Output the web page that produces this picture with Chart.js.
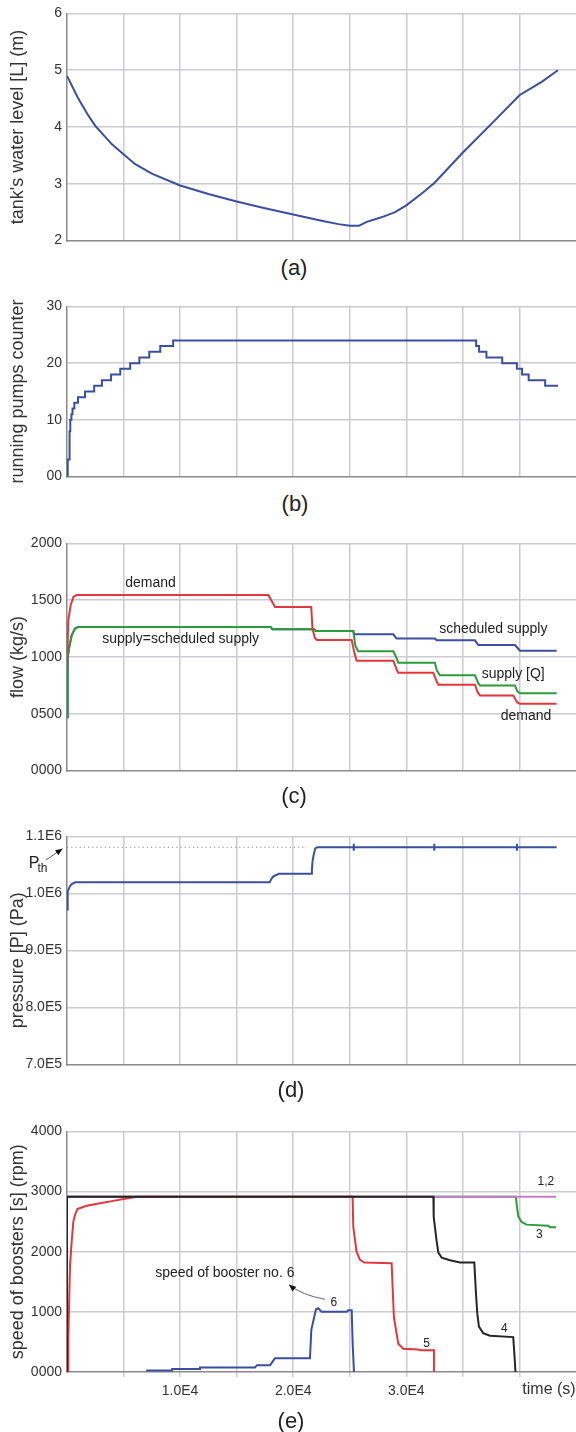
<!DOCTYPE html>
<html>
<head>
<meta charset="utf-8">
<script src="https://cdn.jsdelivr.net/npm/chart.js@4.4.1/dist/chart.umd.min.js"></script>
<style>
  body { margin: 0; background: #fff; }
  #page { position: relative; width: 576px; height: 1432px; overflow: hidden; font-family: "Liberation Sans", Arial, sans-serif; }
  canvas { position: absolute; left: 0; }
  .cap { position: absolute; font-size: 22px; line-height: 1; color: #222; transform: translate(-50%, -50%); }
</style>
</head>
<body>
<div id="page">
  <canvas id="chartA" width="576" height="254" style="top:0px"></canvas>
  <canvas id="chartB" width="576" height="197" style="top:293px"></canvas>
  <canvas id="chartC" width="576" height="254" style="top:530px"></canvas>
  <canvas id="chartD" width="576" height="255" style="top:823px"></canvas>
  <canvas id="chartE" width="582" height="294" style="top:1118px"></canvas>
  <div class="cap" style="left:294px;top:268px">(a)</div>
  <div class="cap" style="left:295px;top:504px">(b)</div>
  <div class="cap" style="left:294px;top:796px">(c)</div>
  <div class="cap" style="left:291px;top:1090px">(d)</div>
  <div class="cap" style="left:291px;top:1421px">(e)</div>
</div>
<script>
// (a) tank level
const levelTime = [0, 500, 1000, 1800, 2500, 4000, 5000, 6000, 7500, 10000, 12500, 15000, 17500, 20000, 22500, 24000, 25000, 25800, 26500, 27800, 29000, 30000, 31500, 32500, 35000, 37500, 40000, 42000, 43400];
const levelValue = [4.90, 4.70, 4.50, 4.23, 4.02, 3.69, 3.52, 3.35, 3.18, 2.97, 2.82, 2.69, 2.57, 2.46, 2.35, 2.29, 2.26, 2.26, 2.33, 2.41, 2.50, 2.62, 2.85, 3.02, 3.55, 4.05, 4.56, 4.80, 5.00];
const levelTicks = ['2', '3', '4', '5', '6'];

// (b) running pumps (value changes at each time)
const pumpTime = [0, 65, 227, 292, 390, 487, 649, 974, 1591, 2403, 3085, 3896, 4708, 5585, 6397, 7273, 8247, 9384, 36172, 36432, 37081, 38477, 39776, 40231, 40815, 42276, 43413];
const pumpCount = [0, 3, 8, 10, 11, 12, 13, 14, 15, 16, 17, 18, 19, 20, 21, 22, 23, 24, 23, 22, 21, 20, 19, 18, 17, 16, 16];
const pumpTicks = ['00', '10', '20', '30'];

// (c) flow
const demandTime = [0, 115, 325, 560, 855, 17800, 18390, 21590, 21700, 21900, 22100, 25170, 25400, 25610, 28850, 29100, 29290, 32380, 32700, 32830, 36070, 36300, 36510, 39460, 39800, 40050, 43290];
const demandFlow = [900, 1324, 1456, 1529, 1545, 1545, 1440, 1440, 1250, 1170, 1150, 1150, 1040, 967, 967, 900, 862, 862, 780, 756, 756, 690, 662, 662, 600, 589, 589];
const supplyTime = [0, 60, 200, 413, 707, 1000, 18000, 18150, 21820, 22000, 25310, 25500, 25750, 28850, 29140, 29290, 32530, 32700, 32970, 36070, 36360, 36510, 39600, 39800, 40050, 43290];
const supplyFlow = [470, 1000, 1088, 1191, 1250, 1265, 1265, 1245, 1245, 1228, 1228, 1097, 1050, 1050, 990, 950, 950, 880, 839, 839, 770, 750, 750, 700, 681, 681];
const scheduledTime = [0, 60, 200, 413, 707, 1000, 18000, 18150, 21820, 22000, 25310, 25400, 28850, 29140, 32530, 32680, 36070, 36360, 39600, 40050, 43290];
const scheduledFlow = [470, 1000, 1088, 1191, 1250, 1265, 1265, 1245, 1245, 1228, 1228, 1200, 1200, 1162, 1162, 1147, 1147, 1106, 1106, 1056, 1056];
const flowTicks = ['0000', '0500', '1000', '1500', '2000'];

// (d) pressure
const pressureTime = [0, 60, 227, 390, 714, 17920, 18090, 18250, 18740, 21590, 21650, 21700, 21800, 21950, 22140, 25340, 25350, 25350, 25360, 32460, 32470, 32470, 32480, 39770, 39780, 39780, 39790, 43290];
const pressureValue = [972000, 1003000, 1011500, 1016000, 1019500, 1019500, 1026000, 1030000, 1034500, 1034500, 1040000, 1055000, 1067000, 1079000, 1081000, 1081000, 1087000, 1075000, 1081000, 1081000, 1087000, 1075000, 1081000, 1081000, 1087000, 1075000, 1081000, 1081000];
const pthTime = [0, 21200];
const pthValue = [1081000, 1081000];
const pressureTicks = ['7.0E5', '8.0E5', '9.0E5', '1.0E6', '1.1E6'];

// (e) booster speeds
const b12Time = [0, 0, 43230];
const b12Speed = [0, 2915, 2915];
const b3Time = [0, 0, 39690, 39760, 39900, 40190, 40640, 42550, 42700, 43230];
const b3Speed = [0, 2915, 2915, 2776, 2586, 2494, 2450, 2433, 2406, 2406];
const b4Time = [0, 0, 32390, 32420, 32680, 32830, 33120, 33860, 34740, 36010, 36150, 36270, 36420, 36800, 37390, 39450, 39550, 39650];
const b4Speed = [0, 2915, 2915, 2579, 2175, 1984, 1902, 1859, 1820, 1820, 1328, 974, 754, 646, 602, 580, 300, 0];
const b5Time = [115, 115, 265, 413, 560, 707, 914, 1739, 2917, 4096, 4979, 6158, 25250, 25310, 25600, 25900, 26300, 28700, 28900, 29290, 29730, 31060, 31200, 32440, 32440];
const b5Speed = [0, 570, 1760, 2170, 2500, 2610, 2710, 2765, 2805, 2845, 2875, 2915, 2915, 2410, 2000, 1864, 1820, 1810, 907, 470, 388, 375, 360, 360, 0];
const b6Time = [7000, 9300, 9300, 11760, 11760, 16620, 16800, 17950, 18390, 21480, 21600, 22010, 22220, 22510, 24720, 24870, 25170, 25250, 25370];
const b6Speed = [25, 25, 49, 49, 76, 76, 114, 114, 228, 228, 700, 1044, 1060, 1000, 1000, 1028, 1028, 500, 0];
const speedTicks = ['0000', '1000', '2000', '3000', '4000'];
const timeTicks = [10000, 20000, 30000];
const timeTickText = ['1.0E4', '2.0E4', '3.0E4'];

const FONT = '"Liberation Sans", Arial, sans-serif';
const GRID = '#cbcbd0';
const AXIS = '#8a8a8a';
const CLEAR = 'rgba(0,0,0,0)';
const T_MAX = 45000;

const BLUE = '#3c4f9e', RED = '#e2373c', GREEN = '#2f9a3c', BLACK = '#262626', PINK = '#c97ccb';

function pts(xs, ys) {
  return xs.map((x, i) => ({x: x, y: ys[i]}));
}

function line(xs, ys, color, extra) {
  return Object.assign({data: pts(xs, ys), borderColor: color, borderWidth: 2, pointRadius: 0, tension: 0}, extra || {});
}

// text and arrows placed in data coordinates
function notes(items) {
  return {
    id: 'notes',
    afterDatasetsDraw(chart) {
      const ctx = chart.ctx, sx = chart.scales.x, sy = chart.scales.y;
      const P = (p) => [sx.getPixelForValue(p[0]), sy.getPixelForValue(p[1])];
      ctx.save();
      items.forEach(n => {
        if (n.text) {
          const [px, py] = P(n.at);
          ctx.save();
          ctx.translate(px, py);
          if (n.rotate) ctx.rotate(n.rotate * Math.PI / 180);
          ctx.font = (n.size || 14) + 'px ' + FONT;
          ctx.fillStyle = n.color || '#222';
          ctx.textAlign = 'center';
          ctx.textBaseline = 'middle';
          ctx.fillText(n.text, 0, 0);
          ctx.restore();
        } else if (n.arrow) {
          const p = n.arrow.map(P);
          ctx.strokeStyle = n.color || '#555';
          ctx.lineWidth = 0.9;
          ctx.beginPath();
          ctx.moveTo(p[0][0], p[0][1]);
          if (p.length === 3) ctx.quadraticCurveTo(p[1][0], p[1][1], p[2][0], p[2][1]);
          else ctx.lineTo(p[1][0], p[1][1]);
          ctx.stroke();
          const tip = p[p.length - 1], from = p[p.length - 2];
          const a = Math.atan2(tip[1] - from[1], tip[0] - from[0]);
          ctx.fillStyle = '#111';
          ctx.beginPath();
          ctx.moveTo(tip[0], tip[1]);
          ctx.lineTo(tip[0] - 7 * Math.cos(a) + 3 * Math.sin(a), tip[1] - 7 * Math.sin(a) - 3 * Math.cos(a));
          ctx.lineTo(tip[0] - 7 * Math.cos(a) - 3 * Math.sin(a), tip[1] - 7 * Math.sin(a) + 3 * Math.cos(a));
          ctx.closePath();
          ctx.fill();
        }
      });
      ctx.restore();
    }
  };
}

function xAxis(showLabels) {
  const gridColor = c => (c.tick && (c.tick.value === 0 || c.tick.value === T_MAX)) ? CLEAR : GRID;
  return {
    type: 'linear', min: 0, max: T_MAX,
    ticks: {
      display: showLabels, stepSize: 5000, autoSkip: false, maxRotation: 0, padding: 6,
      color: '#333', font: {size: 14, family: FONT},
      callback: v => { const k = timeTicks.indexOf(v); return k >= 0 ? timeTickText[k] : ''; }
    },
    grid: {color: gridColor, lineWidth: 1.5, drawTicks: showLabels, tickLength: 5},
    border: {color: AXIS, width: 1.5},
    afterFit: s => { s.height = showLabels ? 40 : 10; }
  };
}

function yAxis(min, max, step, labels, title) {
  return {
    min: min, max: max,
    ticks: {stepSize: step, autoSkip: false, padding: 5, color: '#333', font: {size: 14, family: FONT},
      callback: (v, i) => labels[i]},
    grid: {color: c => (c.tick && c.tick.value === min) ? CLEAR : GRID, lineWidth: 1.5, drawTicks: false},
    border: {color: AXIS, width: 1.5},
    title: {display: !!title, text: title || '', color: '#333', font: {size: 18, family: FONT}, padding: {top: 7, bottom: 0}},
    afterFit: s => { s.width = 67; }
  };
}

function makeChart(id, datasets, x, y, items) {
  return new Chart(document.getElementById(id), {
    type: 'line',
    data: {datasets: datasets},
    options: {
      responsive: false,
      animation: false,
      events: [],
      layout: {padding: {top: 13, left: 0, right: 0, bottom: 0}},
      plugins: {legend: {display: false}, tooltip: {enabled: false}},
      scales: {x: x, y: y}
    },
    plugins: [notes(items || [])]
  });
}

makeChart('chartA',
  [line(levelTime, levelValue, BLUE)],
  xAxis(false), yAxis(2, 6, 1, levelTicks, "tank's water level [L] (m)"));

makeChart('chartB',
  [line(pumpTime, pumpCount, BLUE, {stepped: 'before'})],
  xAxis(false), yAxis(0, 30, 10, pumpTicks, 'running pumps counter'));

makeChart('chartC',
  [line(demandTime, demandFlow, RED),
   line(supplyTime, supplyFlow, GREEN),
   line(scheduledTime, scheduledFlow, BLUE)],
  xAxis(false), yAxis(0, 2000, 500, flowTicks, 'flow (kg/s)'),
  [{text: 'demand', at: [7390, 1651]},
   {text: 'supply=scheduled supply', at: [10050, 1160]},
   {text: 'scheduled supply', at: [37690, 1247]},
   {text: 'supply [Q]', at: [39450, 847]},
   {text: 'demand', at: [40580, 482]}]);

// pressure title sits a little below the middle of the axis in the original
makeChart('chartD',
  [line(pressureTime, pressureValue, BLUE),
   line(pthTime, pthValue, '#8a8a8a', {borderWidth: 1, borderDash: [1.2, 3]})],
  xAxis(false), yAxis(700000, 1100000, 100000, pressureTicks, null),
  [{text: 'pressure [P] (Pa)', at: [-4330, 883000], size: 18, rotate: -90, color: '#333'},
   {text: 'P', at: [-2917, 1051700], size: 16},
   {text: 'th', at: [-2166, 1044000], size: 12},
   {arrow: [[-1856, 1058600], [-398, 1078450]], color: '#444'}]);

makeChart('chartE',
  [line(b4Time, b4Speed, BLACK),
   line(b5Time, b5Speed, RED),
   line(b12Time, b12Speed, PINK),
   line(b3Time, b3Speed, GREEN),
   line(b6Time, b6Speed, BLUE)],
  xAxis(true), yAxis(0, 4000, 1000, speedTicks, 'speed of boosters [s] (rpm)'),
  [{text: 'speed of booster no. 6', at: [13950, 1648]},
   {arrow: [[22810, 1208], [20770, 1278], [19620, 1452]]},
   {text: '6', at: [23600, 1157], size: 12},
   {text: '5', at: [31800, 476], size: 12},
   {text: '4', at: [38660, 725], size: 12},
   {text: '3', at: [41750, 2285], size: 12},
   {text: '1,2', at: [42340, 3158], size: 12},
   {text: 'time (s)', at: [42610, -299], size: 16, color: '#333'}]);
</script>
</body>
</html>
